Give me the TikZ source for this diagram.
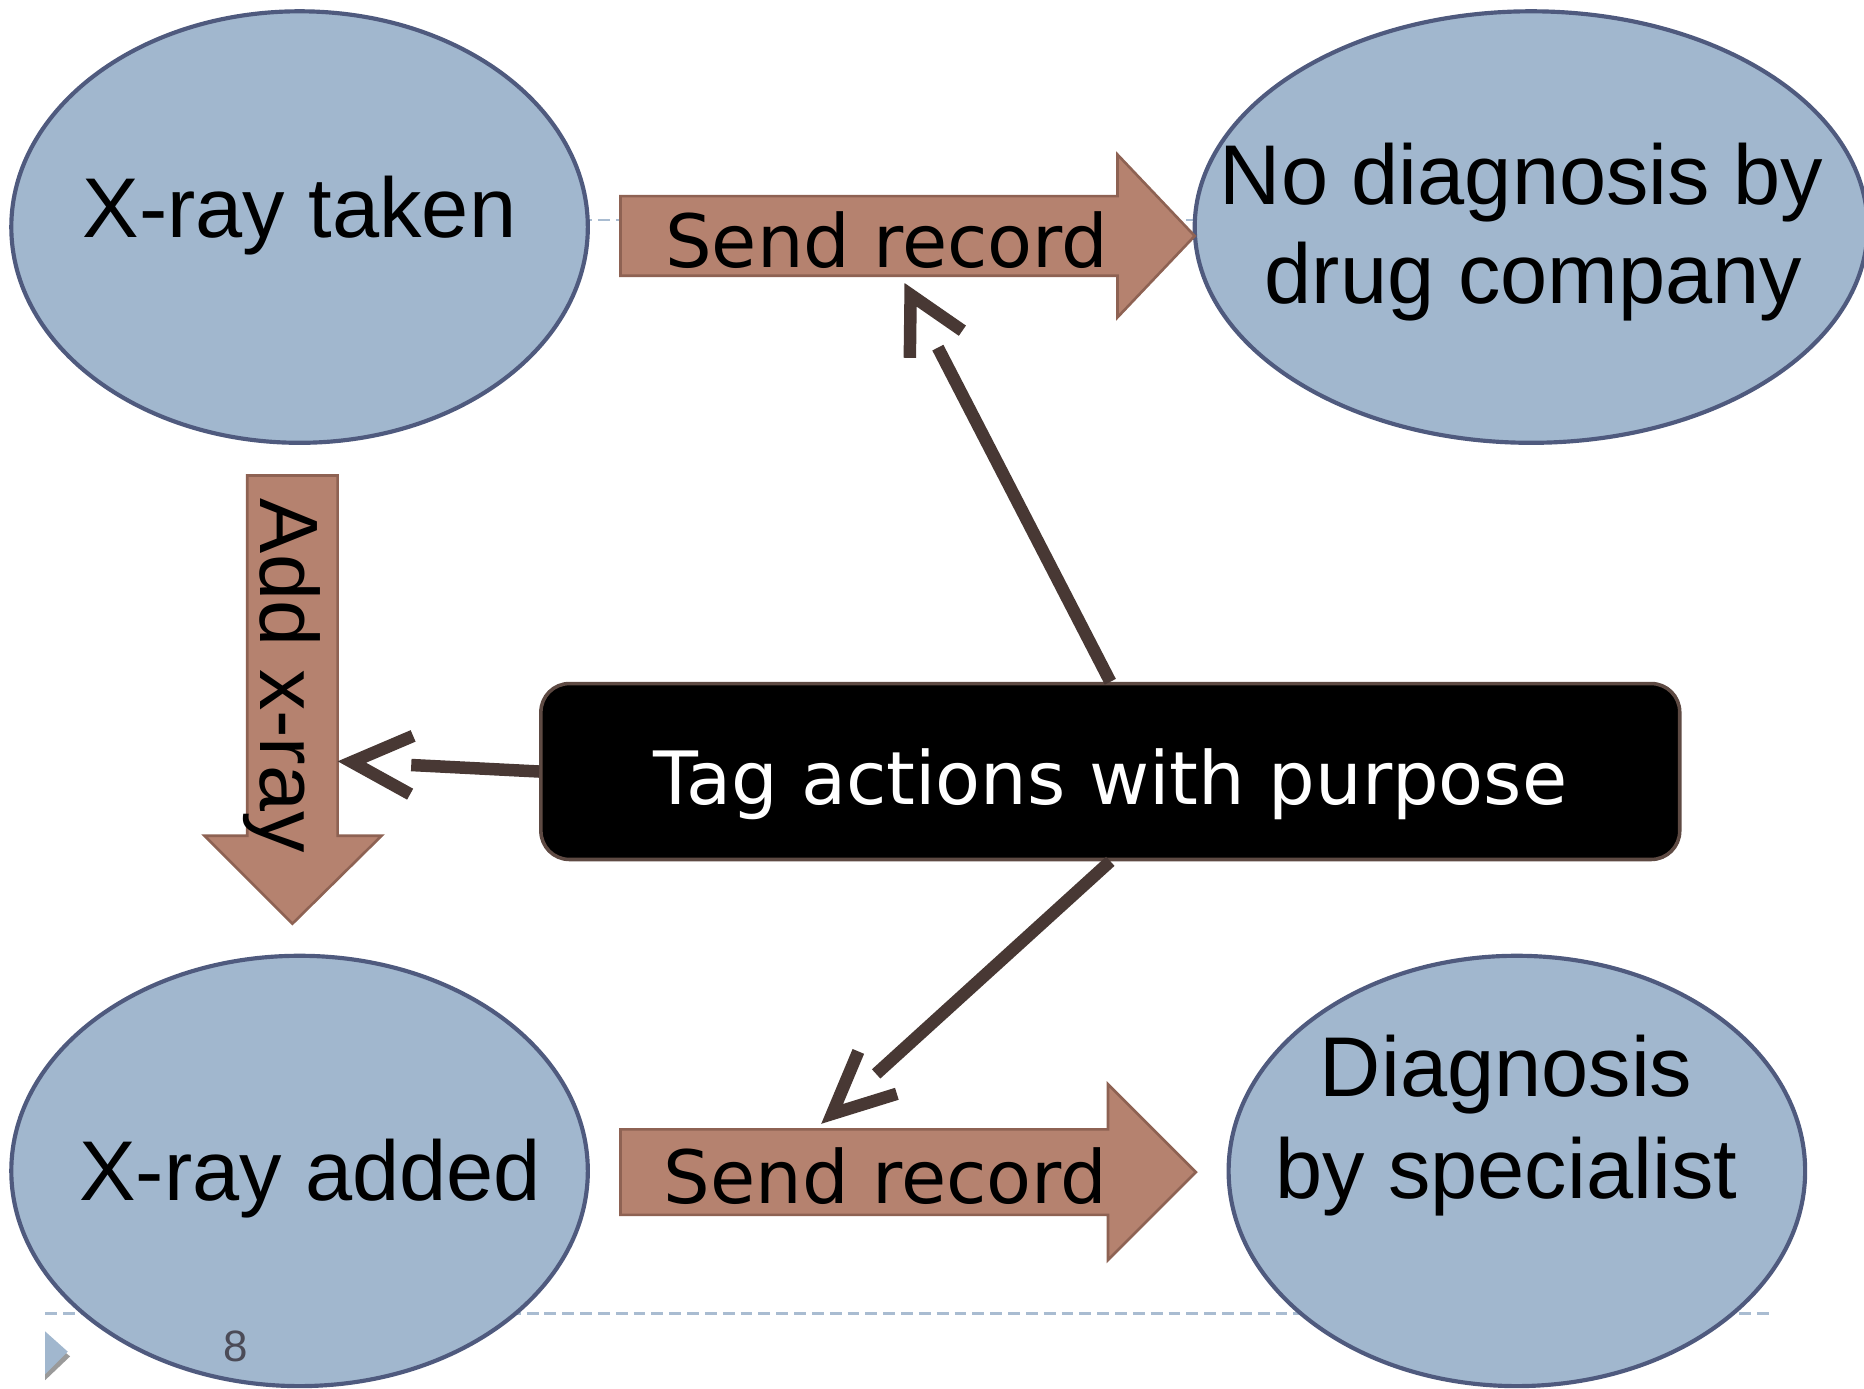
\documentclass[tikz,border=0pt]{standalone}
\usepackage{fontspec}
\setmainfont{Liberation Sans}
\newfontfamily\dvsans{DejaVu Sans}
\usetikzlibrary{shapes.geometric,calc}

\definecolor{ellfill}{HTML}{A1B7CE}
\definecolor{elldraw}{HTML}{4F5A7E}
\definecolor{arrfill}{HTML}{B5826F}
\definecolor{arrdraw}{HTML}{8E6253}
\definecolor{connc}{HTML}{483834}
\definecolor{boxdraw}{HTML}{5E4A43}
\definecolor{rulec}{HTML}{A9BCD1}
\definecolor{pagenum}{HTML}{4B4B57}
\definecolor{markshade}{HTML}{9A9A9A}

\begin{document}
\begin{tikzpicture}[x=0.1mm,y=-0.1mm,
  oval/.style={ellipse, draw=elldraw, fill=ellfill, line width=0.35mm, inner sep=0pt},
  ovaltext/.style={anchor=base, inner sep=0pt, font=\fontsize{20.3}{24}\selectfont},
  blockarrow/.style={draw=arrdraw, fill=arrfill, line width=0.22mm, line join=miter},
  arrtext/.style={anchor=base, inner sep=0pt, font=\dvsans\fontsize{17.6}{21}\selectfont},
  tagbox/.style={draw=boxdraw, fill=black, line width=0.3mm, rounded corners=2.4mm,
    text=white, inner sep=0pt, font=\dvsans\fontsize{17.6}{21}\selectfont,
    text height=5.6mm, text depth=0pt},
  connline/.style={draw=connc, line width=1.05mm, shorten >=5mm},
  connhead/.style={draw=connc, line width=1.05mm, line join=miter},
  pagerule/.style={draw=rulec, line width=0.2mm, dash pattern=on 1mm off 0.5mm}
]
\useasboundingbox (0,0) rectangle (1568,1168);

% slide rules behind the diagram
\draw[pagerule] (38,185) -- (1490,185);
\draw[pagerule] (38,1105) -- (1490,1105);

% slide marker
\fill[markshade] (38,1124) -- (59,1141) -- (38,1161) -- cycle;
\fill[ellfill] (38,1120) -- (57,1137) -- (38,1156) -- cycle;

% states
\node[oval, minimum width=48.5mm, minimum height=36.3mm] (taken) at (252,191) {};
\node[oval, minimum width=56.6mm, minimum height=36.3mm] (nodiag) at (1288,191) {};
\node[oval, minimum width=48.5mm, minimum height=36.2mm] (added) at (252,985) {};
\node[oval, minimum width=48.5mm, minimum height=36.2mm] (diag) at (1276,985) {};

\node[ovaltext] (takenT) at (252,200) {X-ray taken};
\node[ovaltext] (nodiagA) at (1280,172) {No diagnosis by};
\node[ovaltext] (nodiagB) at (1290,255) {drug company};
\node[ovaltext] (addedT) at (261,1010) {X-ray added};
\node[ovaltext] (diagA) at (1267,922) {Diagnosis};
\node[ovaltext] (diagB) at (1267,1008) {by specialist};

% page number over the lower left state
\node[inner sep=0pt, font=\fontsize{10.5}{12}\selectfont, text=pagenum] (pg) at (198,1133) {8};

% actions as block arrows
\draw[blockarrow] (522,165) -- (940,165) -- (940,130) -- (1005,198.5) -- (940,267)
  -- (940,232) -- (522,232) -- cycle;
\node[arrtext] (sendA) at (746,225) {Send record};

\draw[blockarrow] (522,950) -- (932,950) -- (932,912) -- (1006,986) -- (932,1060)
  -- (932,1022) -- (522,1022) -- cycle;
\node[arrtext] (sendB) at (745,1012) {Send record};

\draw[blockarrow] (208,400) -- (284,400) -- (284,703) -- (321,703) -- (246,777)
  -- (172,703) -- (208,703) -- cycle;
\node[ovaltext, font=\fontsize{19.8}{24}\selectfont, rotate=-90, anchor=base west]
  (addx) at (219,419) {Add x-ray};

% the tagging note
\node[tagbox, minimum width=95.8mm, minimum height=14.8mm] (tag) at (934,649)
  {Tag actions with purpose};

\coordinate (tipL) at (296,641);
\coordinate (tipU) at (766,248);
\coordinate (tipD) at (700,937);

\draw[connline] (tag.west) -- (tipL);
\draw[connhead] ($(tipL)!5.6mm!26:(tag.west)$) -- (tipL) -- ($(tipL)!5.6mm!-26:(tag.west)$);

\draw[connline] (tag.north) -- (tipU);
\draw[connhead] ($(tipU)!5.3mm!28:(tag.north)$) -- (tipU) -- ($(tipU)!5.3mm!-28:(tag.north)$);

\draw[connline] (tag.south) -- (tipD);
\draw[connhead] ($(tipD)!5.7mm!25:(tag.south)$) -- (tipD) -- ($(tipD)!5.7mm!-25:(tag.south)$);
\end{tikzpicture}
\end{document}
